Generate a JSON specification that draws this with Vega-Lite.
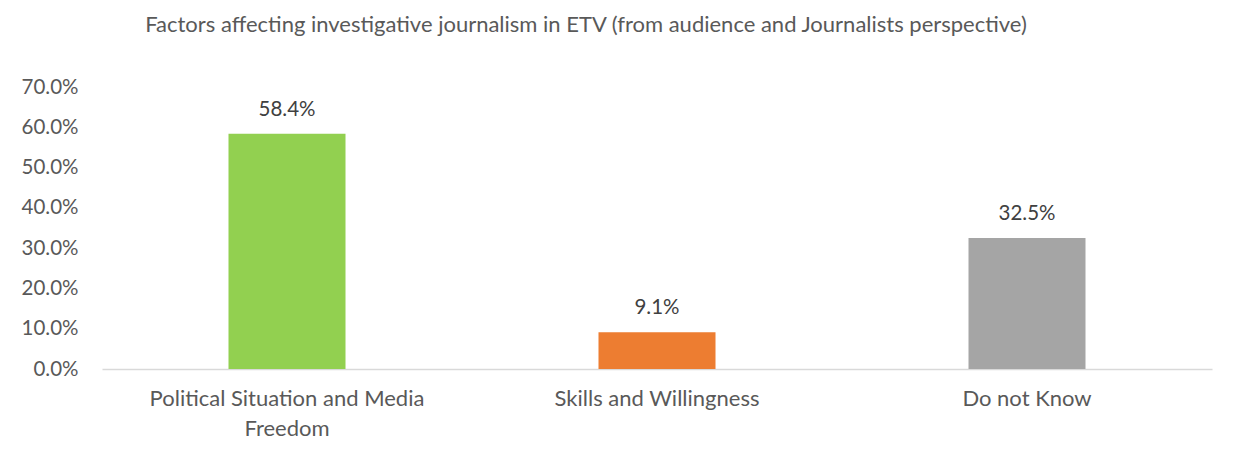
{
  "$schema": "https://vega.github.io/schema/vega-lite/v6.json",
  "autosize": "none",
  "width": 1110,
  "height": 282,
  "padding": {"left": 102, "top": 87, "right": 33, "bottom": 91},
  "background": "white",
  "title": {
    "text": "Factors affecting investigative journalism in ETV (from audience and Journalists perspective)",
    "anchor": "middle",
    "frame": "group",
    "dx": -71,
    "offset": 40,
    "font": "Lato",
    "fontSize": 22,
    "fontWeight": "normal",
    "color": "#595959"
  },
  "data": {
    "values": [
      {"factor": "Political Situation and Media Freedom", "pct": 0.584},
      {"factor": "Skills and Willingness", "pct": 0.091},
      {"factor": "Do not Know", "pct": 0.325}
    ]
  },
  "encoding": {
    "x": {
      "field": "factor",
      "type": "nominal",
      "sort": null,
      "scale": {"paddingInner": 0, "paddingOuter": 0},
      "axis": {
        "title": null,
        "labelAngle": 0,
        "labelFont": "Lato",
        "labelFontSize": 22,
        "labelColor": "#595959",
        "labelPadding": 19,
        "labelLineHeight": 30,
        "labelLimit": 400,
        "labelExpr": "datum.label == 'Political Situation and Media Freedom' ? ['Political Situation and Media', 'Freedom'] : datum.label",
        "ticks": false,
        "domainColor": "#D9D9D9",
        "domainWidth": 1.5
      }
    },
    "y": {
      "field": "pct",
      "type": "quantitative",
      "scale": {"domain": [0, 0.7]},
      "axis": {
        "title": null,
        "format": ".1%",
        "values": [0, 0.1, 0.2, 0.3, 0.4, 0.5, 0.6, 0.7],
        "labelFont": "Lato",
        "labelFontSize": 20.5,
        "labelColor": "#595959",
        "labelPadding": 24,
        "ticks": false,
        "domain": false,
        "grid": false
      }
    }
  },
  "layer": [
    {
      "mark": {"type": "bar", "width": 117},
      "encoding": {
        "color": {
          "field": "factor",
          "type": "nominal",
          "scale": {
            "domain": ["Political Situation and Media Freedom", "Skills and Willingness", "Do not Know"],
            "range": ["#92D050", "#ED7D31", "#A5A5A5"]
          },
          "legend": null
        }
      }
    },
    {
      "mark": {"type": "text", "baseline": "bottom", "dy": -14, "font": "Lato", "fontSize": 20.5, "color": "#404040"},
      "encoding": {
        "text": {"field": "pct", "type": "quantitative", "format": ".1%"}
      }
    }
  ],
  "config": {"view": {"stroke": null}}
}
